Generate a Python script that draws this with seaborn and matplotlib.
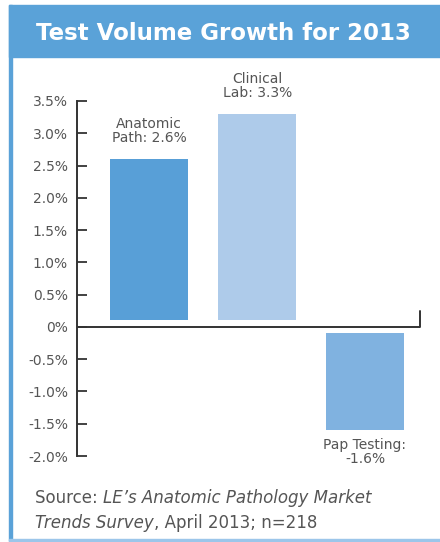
import matplotlib
matplotlib.use("Agg")
import matplotlib.pyplot as plt
import matplotlib.patches as mpatches
import matplotlib.transforms as mtransforms
import seaborn as sns
import pandas as pd

# ---- data ----
categories = ["Anatomic Path", "Clinical Lab", "Pap Testing"]
values = [2.6, 3.3, -1.6]
bar_labels = ["Anatomic\nPath: 2.6%", "Clinical\nLab: 3.3%", "Pap Testing:\n-1.6%"]
tick_values = [3.5, 3.0, 2.5, 2.0, 1.5, 1.0, 0.5, 0.0, -0.5, -1.0, -1.5, -2.0]
tick_labels = ["3.5%", "3.0%", "2.5%", "2.0%", "1.5%", "1.0%", "0.5%", "0%",
               "-0.5%", "-1.0%", "-1.5%", "-2.0%"]
title = "Test Volume Growth for 2013"
colors = ["#589fd7", "#aecbea", "#80b2e0"]

sns.set_theme(style="white")
plt.rcParams["font.family"] = ["DejaVu Sans"]

W, H = 440, 542
fig = plt.figure(figsize=(W / 100, H / 100), dpi=100)

def fx(px):
    return px / W

def fy(py):
    return 1 - py / H

# border & banner
fig.patches.append(mpatches.Rectangle((fx(9), fy(541)), fx(3), fy(5) - fy(541),
                                      transform=fig.transFigure, color="#5aa2d8", zorder=0))
fig.patches.append(mpatches.Rectangle((fx(9), fy(541)), fx(431), 2 / H,
                                      transform=fig.transFigure, color="#9cc6ea", zorder=0))
fig.patches.append(mpatches.Rectangle((fx(9), fy(57)), fx(431), fy(5) - fy(57),
                                      transform=fig.transFigure, color="#5aa2d8", zorder=0))
fig.text(fx(223), fy(33), title, color="white", fontsize=16.5, fontweight="bold",
         ha="center", va="center")

ax_left, ax_right = 77, 420
ax_top, ax_bottom = 101, 456
ax = fig.add_axes([fx(ax_left), fy(ax_bottom), fx(ax_right - ax_left), fy(ax_top) - fy(ax_bottom)])

df = pd.DataFrame({"category": categories, "value": values})
sns.barplot(data=df, x="category", y="value", hue="category", palette=colors,
            legend=False, width=0.72, saturation=1, linewidth=0, ax=ax)

# small gap between bars and the zero line
gap = 0.1
for p in ax.patches:
    h = p.get_height()
    if h > 0:
        p.set_y(gap)
        p.set_height(h - gap)
    else:
        p.set_y(-gap)
        p.set_height(h + gap)

ax.set_xlim(-0.67, 2.51)
ax.set_ylim(-2.0, 3.5)
ax.set_facecolor("none")
for s in ["top", "right", "bottom"]:
    ax.spines[s].set_visible(False)
ax.spines["left"].set_color("#333333")
ax.spines["left"].set_linewidth(1.4)
ax.set_xticks([])
ax.set_yticks(tick_values)
ax.set_yticklabels(tick_labels)
ax.tick_params(axis="y", left=True, direction="in", length=7, width=1.3, color="#333333",
               labelsize=10, labelcolor="#555555", pad=6.5)
ax.set_xlabel("")
ax.set_ylabel("")

# zero line with a small end tick
ax.axhline(0, color="#333333", lw=1.4, zorder=3)
trans = mtransforms.blended_transform_factory(ax.transAxes, ax.transData)
ax.plot([1, 1], [0, 0.25], color="#333333", lw=1.4, transform=trans, clip_on=False)

# bar labels
for i, (v, lab) in enumerate(zip(values, bar_labels)):
    if v >= 0:
        ax.text(i, v + 0.22, lab, ha="center", va="bottom", fontsize=10,
                color="#555555", linespacing=1.0, clip_on=False)
    else:
        ax.text(i, v - 0.12, lab, ha="center", va="top", fontsize=10,
                color="#555555", linespacing=1.0, clip_on=False)

# source note with mixed styles
renderer = fig.canvas.get_renderer()

def chain(parts, x0, y0):
    x = x0
    for txt, style in parts:
        t = fig.text(x, y0, txt, fontsize=12, style=style, color="#555555",
                     ha="left", va="baseline")
        bb = t.get_window_extent(renderer=renderer)
        x = bb.x1 / fig.dpi / fig.get_figwidth()

chain([("Source: ", "normal"), ("LE\u2019s Anatomic Pathology Market", "italic")], fx(35), fy(503))
chain([("Trends Survey", "italic"), (", April 2013; n=218", "normal")], fx(35), fy(528))

fig.savefig("out.png", dpi=100, facecolor="white")
